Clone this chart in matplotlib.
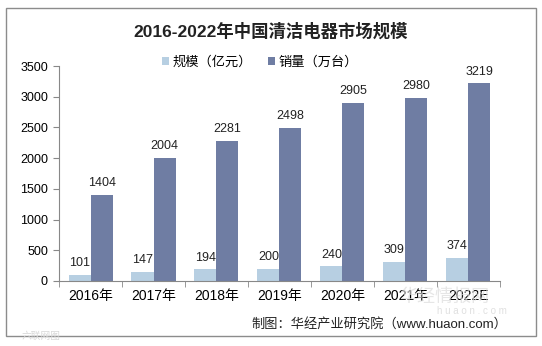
import numpy as np
import matplotlib.pyplot as plt
from matplotlib.patches import Rectangle

plt.rcParams['font.family'] = ['Liberation Sans', 'Noto Sans CJK SC', 'DejaVu Sans']

years = ["2016年", "2017年", "2018年", "2019年", "2020年", "2021年", "2022E"]
scale = [101, 147, 194, 200, 240, 309, 374]        # 规模（亿元）
sales = [1404, 2004, 2281, 2498, 2905, 2980, 3219]  # 销量（万台）

light = "#b7cfe2"
dark = "#6f7da3"

fig = plt.figure(figsize=(5.42, 3.46), dpi=100)
fig.patches.append(Rectangle((6 / 542, 10 / 346), 530 / 542, 328 / 346,
                             transform=fig.transFigure, fill=False,
                             edgecolor="#8c8c8c", linewidth=1.0))

ax = fig.add_axes([0.109, 0.188, 0.813, 0.621])
x = np.arange(len(years))
w = 0.35
ax.bar(x - w / 2, scale, w, color=light, label="规模（亿元）")
ax.bar(x + w / 2, sales, w, color=dark, label="销量（万台）")

for i in range(len(years)):
    ax.text(x[i] - w / 2, scale[i] + 90, str(scale[i]), ha="center", va="bottom",
            fontsize=9, color="#222222")
    ax.text(x[i] + w / 2, sales[i] + 90, str(sales[i]), ha="center", va="bottom",
            fontsize=9, color="#222222")

ax.set_xlim(-0.5, len(years) - 0.5)
ax.set_ylim(0, 3500)
ax.set_yticks(range(0, 3501, 500))
ax.set_xticks(x)
ax.set_xticklabels(years, fontsize=10)
ax.set_xticks(np.arange(-0.5, len(years), 1), minor=True)
ax.tick_params(axis="x", which="major", length=0, pad=6)
ax.tick_params(axis="x", which="minor", length=4, color="#888888")
ax.tick_params(axis="y", length=4, color="#888888", labelsize=9, pad=4)
for s in ["top", "right"]:
    ax.spines[s].set_visible(False)
for s in ["left", "bottom"]:
    ax.spines[s].set_color("#888888")

fig.text(0.5, 0.91, "2016-2022年中国清洁电器市场规模", ha="center", va="center",
         fontsize=12.5, fontweight="bold", color="#222222")
fig.legend(loc="center", bbox_to_anchor=(0.48, 0.82), ncol=2, frameon=False,
           fontsize=9.5, handlelength=0.5, handleheight=0.5, columnspacing=1.2,
           handletextpad=0.3)

# 水印
fig.text(0.82, 0.14, "华经情报网", ha="center", va="center", fontsize=13,
         color="#dcdcdc", alpha=0.7, zorder=0)
fig.text(0.87, 0.1, "h u a o n . c o m", ha="center", va="center", fontsize=7,
         color="#e0e0e0", zorder=0)
fig.text(0.04, 0.03, "六联网图", ha="left", va="center", fontsize=7,
         color="#d8d8d8")
fig.text(0.7, 0.062, "制图：华经产业研究院（www.huaon.com）", ha="center",
         va="center", fontsize=9.5, color="#222222")

fig.savefig("out.png", dpi=100)
